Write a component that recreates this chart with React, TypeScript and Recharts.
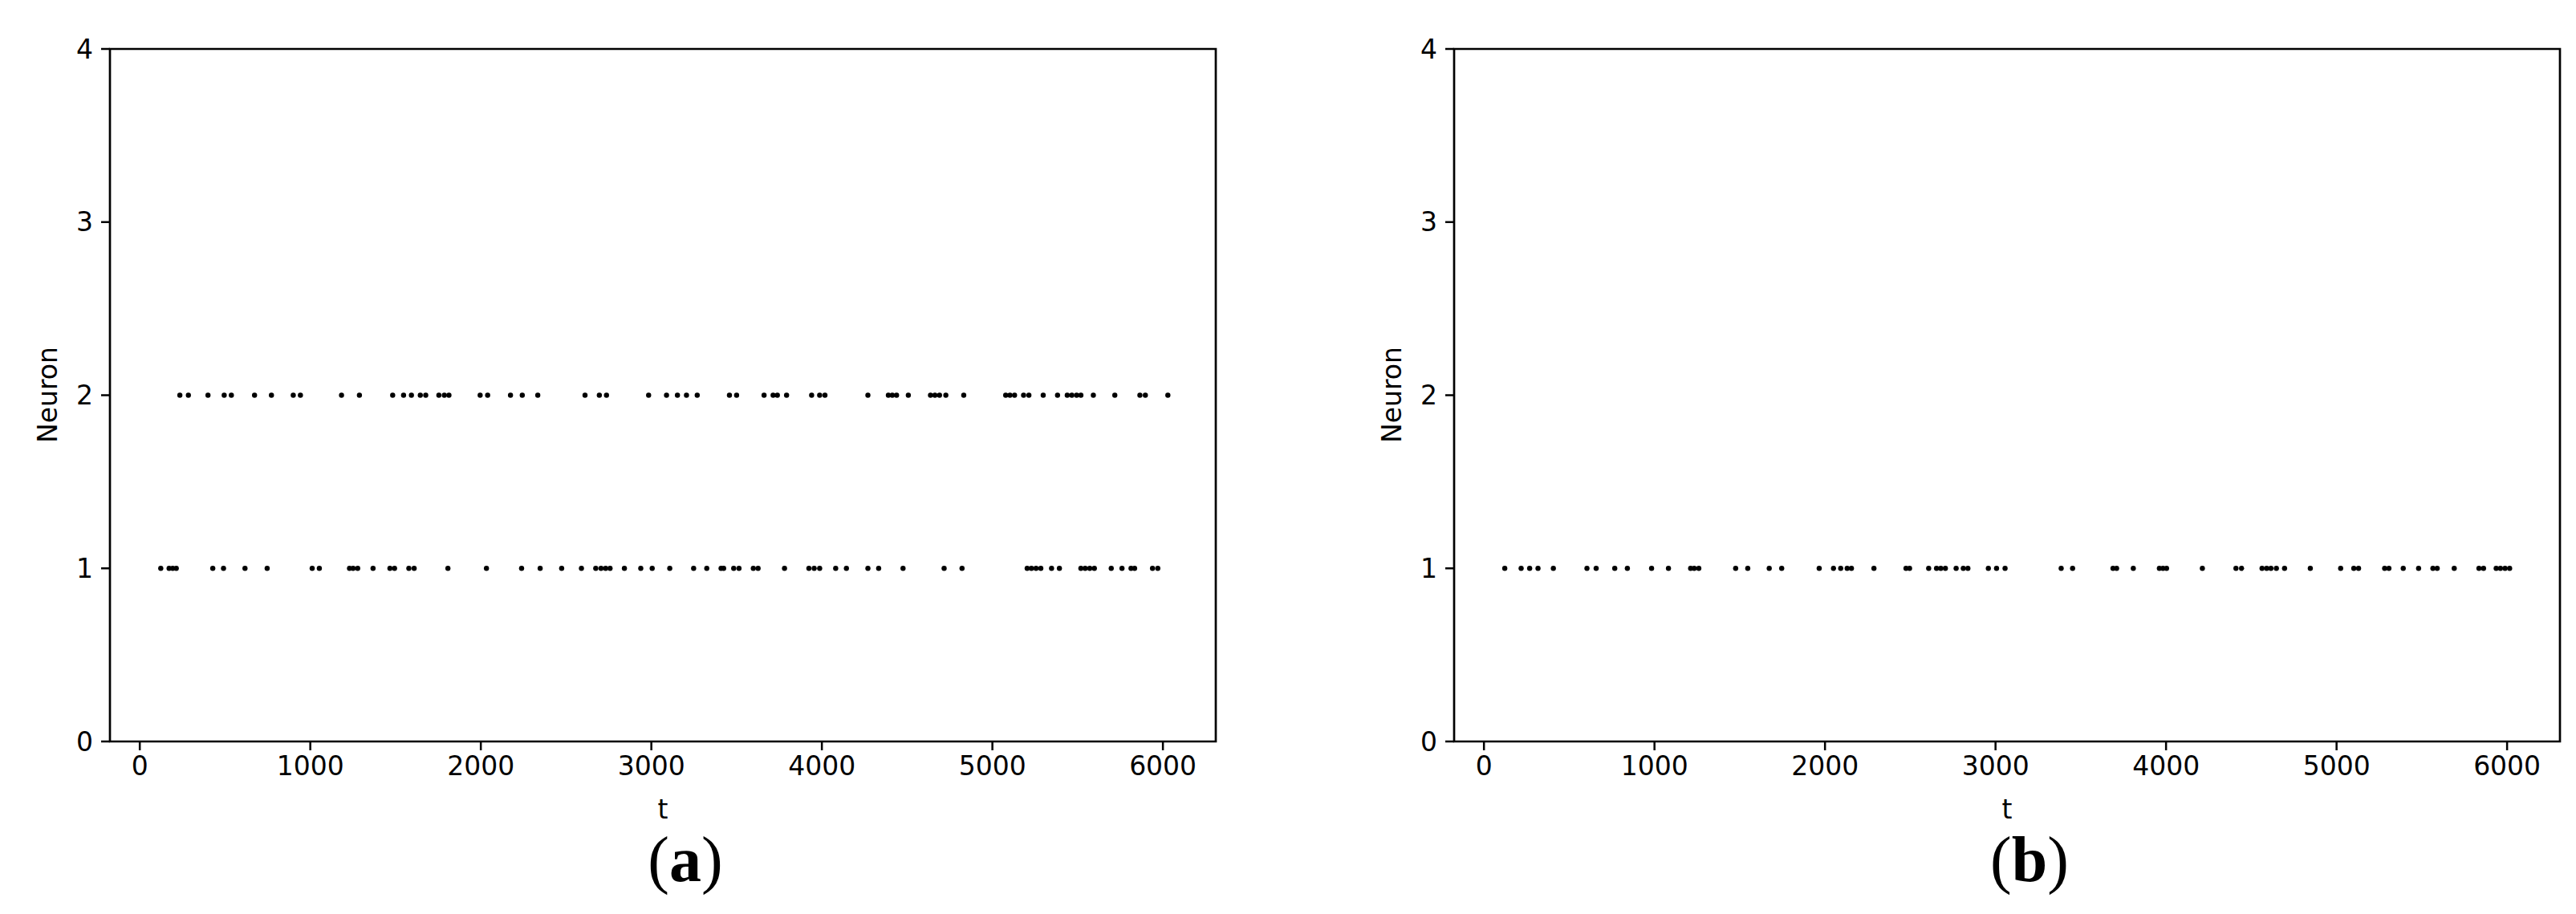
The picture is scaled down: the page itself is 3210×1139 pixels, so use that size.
import React from "react";
import { ScatterChart, Scatter, XAxis, YAxis, ReferenceArea } from "recharts";

const aNeuron2 = [
  235, 285, 400, 495, 537, 673, 772, 900, 942, 1183, 1288, 1483, 1547, 1593, 1645, 1677,
  1754, 1786, 1813, 1996, 2040, 2174, 2243, 2334, 2611, 2695, 2737, 2984, 3089, 3153,
  3206, 3269, 3458, 3500, 3661, 3714, 3739, 3793, 3940, 3987, 4018, 4270, 4390, 4413,
  4438, 4507, 4637, 4663, 4690, 4727, 4832, 5078, 5103, 5130, 5183, 5214, 5298, 5382,
  5439, 5466, 5494, 5519, 5592, 5718, 5865, 5897, 6029,
];
const aNeuron1 = [
  123, 172, 193, 214, 428, 491, 617, 747, 1011, 1053, 1230, 1251, 1278, 1368, 1467, 1494,
  1578, 1609, 1807, 2033, 2239, 2348, 2474, 2590, 2674, 2705, 2732, 2758, 2842, 2938,
  3005, 3108, 3248, 3325, 3409, 3424, 3483, 3514, 3598, 3626, 3781, 3924, 3955, 3987,
  4081, 4144, 4270, 4333, 4476, 4717, 4822, 5204, 5229, 5256, 5284, 5347, 5393, 5519,
  5544, 5571, 5598, 5697, 5760, 5813, 5834, 5939, 5970,
];
const bNeuron1 = [
  122, 218, 268, 317, 407, 604, 658, 767, 841, 983, 1082, 1212, 1233, 1260, 1476, 1547,
  1673, 1746, 1966, 2050, 2092, 2130, 2155, 2287, 2475, 2496, 2608, 2654, 2679, 2706,
  2769, 2811, 2838, 2958, 3006, 3056, 3385, 3452, 3689, 3710, 3808, 3961, 3982, 4003,
  4213, 4410, 4443, 4563, 4590, 4615, 4647, 4695, 4846, 5024, 5101, 5129, 5282, 5307,
  5391, 5481, 5565, 5590, 5690, 5835, 5862, 5936, 5961, 5988, 6015,
];

const xTicks = [0, 1000, 2000, 3000, 4000, 5000, 6000];
const yTicks = [0, 1, 2, 3, 4];
const X_DOMAIN = [-175, 6310];

const FONT = "DejaVu Sans";
const tickStyle = { fontSize: 33, fill: "#000", fontFamily: FONT };

const toPoints = (times: number[], neuron: number) => times.map((t) => ({ t, n: neuron }));

const Dot = (p: any) => <circle cx={p.cx} cy={p.cy} r={3.2} fill="#000" />;

function Raster({ series, left }: { series: { t: number; n: number }[][]; left: number }) {
  return (
    <div style={{ position: "absolute", left, top: 0 }}>
      <ScatterChart width={1540} height={1000} margin={{ top: 61, right: 25, bottom: 16, left: 57 }}>
        <XAxis
          type="number"
          dataKey="t"
          domain={X_DOMAIN}
          ticks={xTicks}
          allowDataOverflow
          axisLine={false}
          tickSize={11}
          tickMargin={8}
          tickLine={{ stroke: "#000", strokeWidth: 2.5 }}
          tick={tickStyle}
          height={60}
        />
        <YAxis
          type="number"
          dataKey="n"
          domain={[0, 4]}
          ticks={yTicks}
          axisLine={false}
          tickSize={11}
          tickMargin={10}
          tickLine={{ stroke: "#000", strokeWidth: 2.5 }}
          tick={tickStyle}
          width={80}
        />
        <ReferenceArea
          x1={X_DOMAIN[0]}
          x2={X_DOMAIN[1]}
          y1={0}
          y2={4}
          fill="none"
          stroke="#000"
          strokeWidth={2.7}
          strokeOpacity={1}
          ifOverflow="visible"
        />
        {series.map((d, i) => (
          <Scatter key={i} data={d} shape={Dot} isAnimationActive={false} />
        ))}
      </ScatterChart>
    </div>
  );
}

function Labels({ axLeft, axRight, tag }: { axLeft: number; axRight: number; tag: string }) {
  const cx = (axLeft + axRight) / 2;
  return (
    <>
      <text x={cx} y={1020} textAnchor="middle" fontFamily={FONT} fontSize={33}>t</text>
      <text
        x={axLeft - 78}
        y={492}
        textAnchor="middle"
        dominantBaseline="central"
        fontFamily={FONT}
        fontSize={33}
        transform={`rotate(-90 ${axLeft - 78} 492)`}
      >
        Neuron
      </text>
      <text x={cx + 28} y={1098} textAnchor="middle" fontFamily="Liberation Serif" fontSize={80}>
        <tspan>(</tspan>
        <tspan fontWeight="bold">{tag}</tspan>
        <tspan>)</tspan>
      </text>
    </>
  );
}

export default function App() {
  return (
    <div style={{ position: "absolute", left: 0, top: 0, width: 3210, height: 1139, background: "#fff" }}>
      <Raster series={[toPoints(aNeuron2, 2), toPoints(aNeuron1, 1)]} left={0} />
      <Raster series={[toPoints(bNeuron1, 1)]} left={1675} />
      <svg width={3210} height={1139} style={{ position: "absolute", left: 0, top: 0, pointerEvents: "none" }}>
        <Labels axLeft={137} axRight={1515} tag="a" />
        <Labels axLeft={1812} axRight={3190} tag="b" />
      </svg>
    </div>
  );
}
